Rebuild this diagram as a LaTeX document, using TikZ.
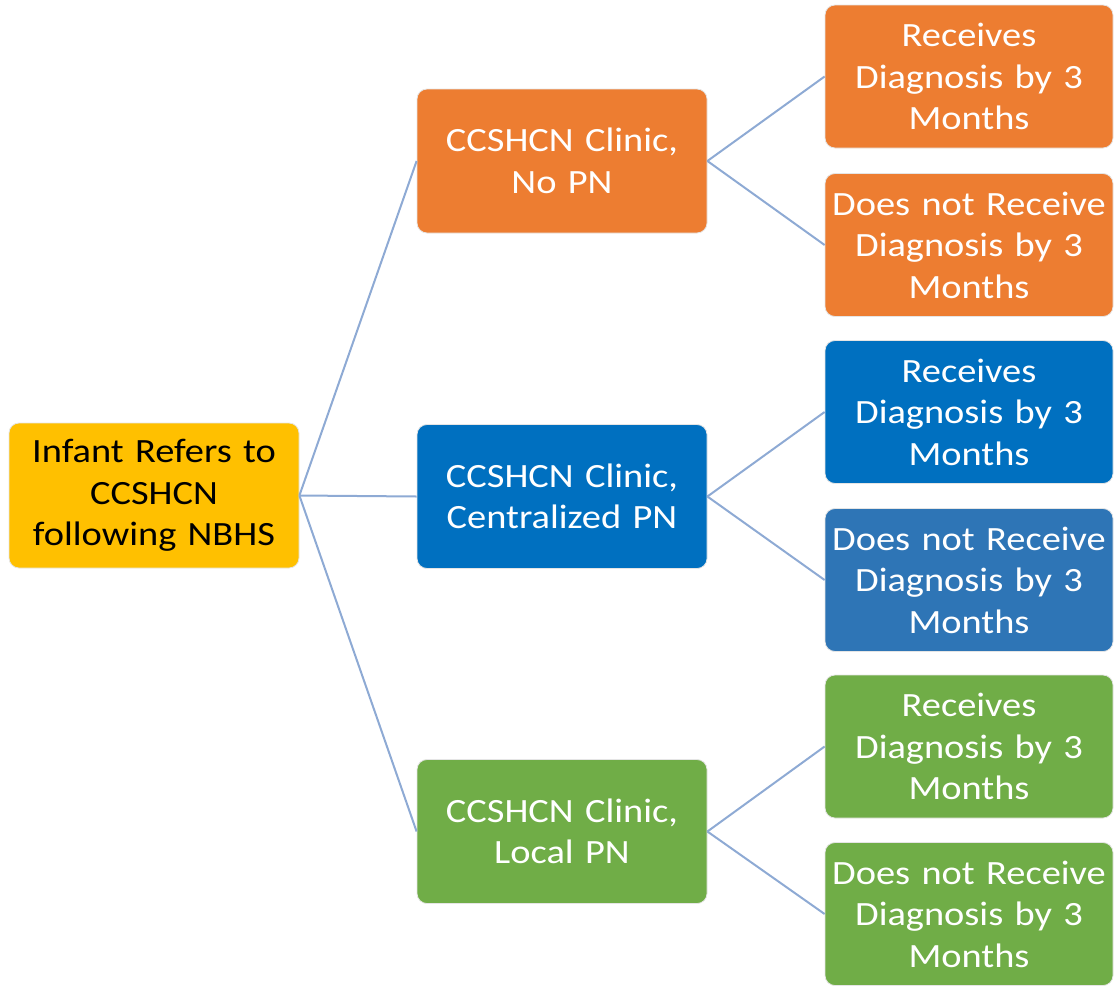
\documentclass[tikz,border=0pt]{standalone}
\usepackage{fontspec}
\setmainfont{Carlito}[FakeStretch=1.13]
\definecolor{cyellow}{HTML}{FFC000}
\definecolor{corange}{HTML}{ED7D31}
\definecolor{cblue}{HTML}{0070C0}
\definecolor{cbluelt}{HTML}{2E75B6}
\definecolor{cgreen}{HTML}{70AD47}
\definecolor{cline}{HTML}{8EAAD4}
\begin{document}
\begin{tikzpicture}[x=1pt,y=1pt,
  box/.style={rectangle, rounded corners=10pt, draw=black!10, line width=0.8pt,
    text=white, align=center, inner sep=0pt,
    font=\fontsize{34}{41.5}\selectfont},
  rootbox/.style={box, fill=cyellow, text=black, minimum width=290pt, minimum height=145pt, text width=285pt},
  midbox/.style={box, minimum width=290pt, minimum height=144pt, text width=285pt},
  leafbox/.style={box, minimum width=288pt, minimum height=143pt, text width=286pt},
  conn/.style={draw=cline, line width=2pt}]
\useasboundingbox (0,0) rectangle (1115,-985);
\node[rootbox] (root) at (154,-495.5) {Infant Refers to\\CCSHCN\\following NBHS};
\node[midbox, fill=corange] (m1) at (562,-161) {CCSHCN Clinic,\\No PN};
\node[midbox, fill=cblue] (m2) at (562,-496.5) {CCSHCN Clinic,\\Centralized PN};
\node[midbox, fill=cgreen] (m3) at (562,-831.5) {CCSHCN Clinic,\\Local PN};
\node[leafbox, fill=corange] (l1) at (969,-76.5) {Receives\\Diagnosis by 3\\Months};
\node[leafbox, fill=corange] (l2) at (969,-245) {Does not Receive\\Diagnosis by 3\\Months};
\node[leafbox, fill=cblue] (l3) at (969,-412) {Receives\\Diagnosis by 3\\Months};
\node[leafbox, fill=cbluelt] (l4) at (969,-580) {Does not Receive\\Diagnosis by 3\\Months};
\node[leafbox, fill=cgreen] (l5) at (969,-746.5) {Receives\\Diagnosis by 3\\Months};
\node[leafbox, fill=cgreen] (l6) at (969,-914) {Does not Receive\\Diagnosis by 3\\Months};
\draw[conn] (root.east) -- (m1.west);
\draw[conn] (root.east) -- (m2.west);
\draw[conn] (root.east) -- (m3.west);
\draw[conn] (m1.east) -- (l1.west);
\draw[conn] (m1.east) -- (l2.west);
\draw[conn] (m2.east) -- (l3.west);
\draw[conn] (m2.east) -- (l4.west);
\draw[conn] (m3.east) -- (l5.west);
\draw[conn] (m3.east) -- (l6.west);
\end{tikzpicture}
\end{document}
